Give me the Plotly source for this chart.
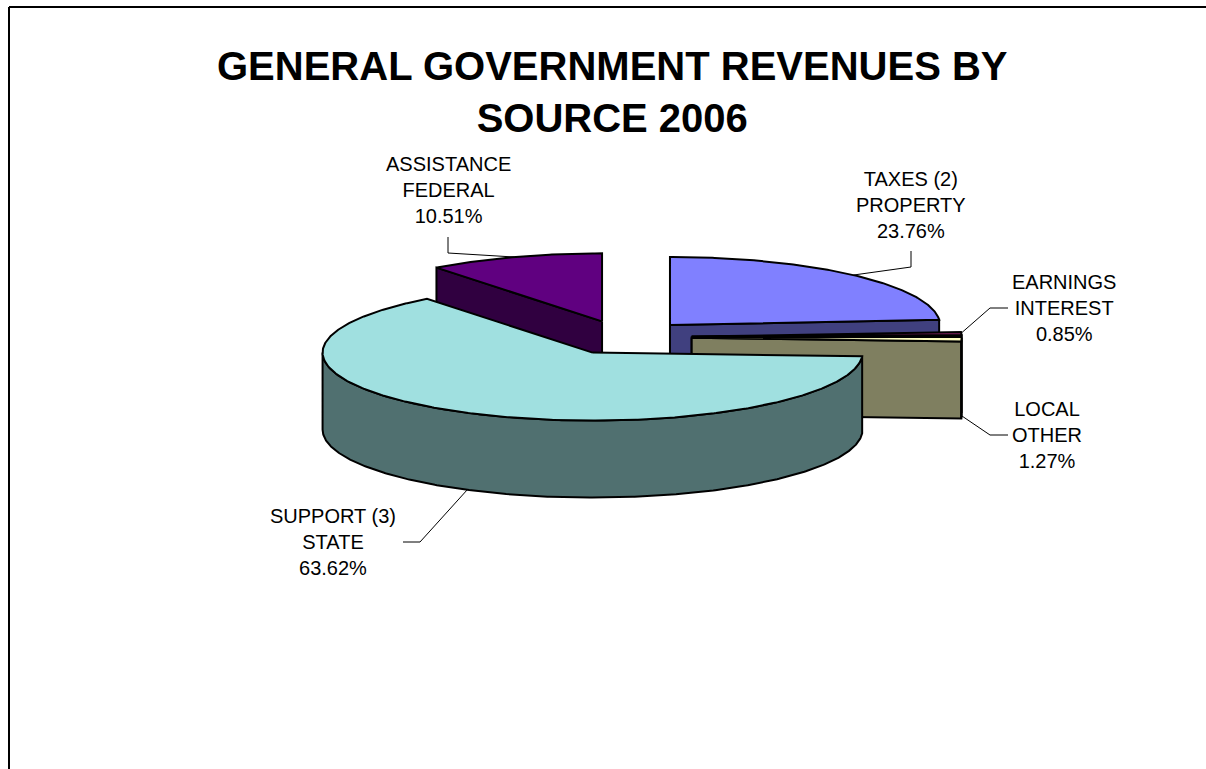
import numpy as np
import plotly.graph_objects as go

# ---- data -------------------------------------------------------------
categories = ["PROPERTY TAXES (2)", "INTEREST EARNINGS", "OTHER LOCAL",
              "STATE SUPPORT (3)", "FEDERAL ASSISTANCE"]
label_lines = [["TAXES (2)", "PROPERTY"], ["EARNINGS", "INTEREST"],
               ["LOCAL", "OTHER"], ["SUPPORT (3)", "STATE"],
               ["ASSISTANCE", "FEDERAL"]]
shares = [23.76, 0.85, 1.27, 63.62, 10.51]

# ---- styling ----------------------------------------------------------
top_colors = ["#8080FF", "#802060", "#FFFFC0", "#A0E0E0", "#600080"]
FONT = "Liberation Sans, Arial, sans-serif"

W, H = 1206, 769
CX, CY = 624.0, 337.5      # pie centre (pixel space)
RX, RY = 270.0, 68.0       # ellipse radii of the tilted disc
DEPTH = 77.0               # wall thickness
EXPLODE = 67.7             # radial pull of every slice (x units)

# label placement: (centre x, middle-line y) and leader elbow / end points
label_pos = [(911, 205), (1064, 308), (1047, 435), (333, 542), (448, 190)]
leader_tail = [[(911, 267), (911, 251)], [(990, 308), (1008, 308)],
               [(990, 435), (1008, 435)], [(420, 542), (403, 542)],
               [(448, 253), (448, 237)]]


def shade(hex_color, f=0.5):
    h = hex_color.lstrip("#")
    r, g, b = (int(h[i:i + 2], 16) for i in (0, 2, 4))
    return "#%02X%02X%02X" % (int(r * f), int(g * f), int(b * f))


def pt(cx, cy, deg, r=1.0):
    t = np.radians(deg)
    return cx + r * RX * np.sin(t), cy - r * RY * np.cos(t)


total = sum(shares)
bounds = np.concatenate([[0], np.cumsum(shares) / total * 360.0])

slices = []
for i, v in enumerate(shares):
    a, b = bounds[i], bounds[i + 1]
    mid = (a + b) / 2
    t = np.radians(mid)
    cx = CX + EXPLODE * np.sin(t)
    cy = CY - EXPLODE * (RY / RX) * np.cos(t)
    slices.append(dict(a=a, b=b, mid=mid, cx=cx, cy=cy))

side_faces = []   # (depth key, xs, ys, colour)
top_faces = []

for i, s in enumerate(slices):
    a, b, cx, cy = s["a"], s["b"], s["cx"], s["cy"]
    side = shade(top_colors[i])
    # top face
    angs = np.linspace(a, b, max(3, int((b - a) * 2)))
    xs = [cx] + [pt(cx, cy, d)[0] for d in angs] + [cx]
    ys = [cy] + [pt(cx, cy, d)[1] for d in angs] + [cy]
    top_faces.append((xs, ys, top_colors[i]))
    # outer wall, front half only
    lo, hi = max(a, 90.0), min(b, 270.0)
    if hi > lo:
        wa = np.linspace(lo, hi, max(3, int((hi - lo) * 2)))
        tx = [pt(cx, cy, d)[0] for d in wa]
        ty = [pt(cx, cy, d)[1] for d in wa]
        xs = tx + tx[::-1] + [tx[0]]
        ys = ty + [y + DEPTH for y in ty[::-1]] + [ty[0]]
        key = max(ty) + DEPTH
        side_faces.append((key, xs, ys, side))
    # radial cut faces, when facing the viewer
    for edge, normal in ((a, a - 90.0), (b, b + 90.0)):
        if np.cos(np.radians(normal - 180.0)) > 1e-6:
            ex, ey = pt(cx, cy, edge)
            xs = [cx, ex, ex, cx, cx]
            ys = [cy, ey, ey + DEPTH, cy + DEPTH, cy]
            key = pt(cx, cy, edge, 0.5)[1] + DEPTH / 2
            side_faces.append((key, xs, ys, side))

fig = go.Figure()

for key, xs, ys, col in sorted(side_faces, key=lambda f: f[0]):
    fig.add_trace(go.Scatter(x=xs, y=ys, mode="lines", fill="toself",
                             fillcolor=col, line=dict(color="black", width=2),
                             hoverinfo="skip", showlegend=False))
for xs, ys, col in top_faces:
    fig.add_trace(go.Scatter(x=xs, y=ys, mode="lines", fill="toself",
                             fillcolor=col, line=dict(color="black", width=2),
                             hoverinfo="skip", showlegend=False))

# leader lines and data labels
for i, s in enumerate(slices):
    mid = s["mid"]
    ax, ay = pt(s["cx"], s["cy"], mid)
    if 90.0 < mid < 270.0:
        ay += DEPTH
    path = [(ax, ay)] + leader_tail[i]
    fig.add_trace(go.Scatter(x=[p[0] for p in path], y=[p[1] for p in path],
                             mode="lines", line=dict(color="black", width=1),
                             hoverinfo="skip", showlegend=False))
    lx, ly = label_pos[i]
    text = "<br>".join(label_lines[i] + [f"{shares[i]:.2f}%"])
    fig.add_annotation(x=lx, y=ly, xref="x", yref="y", text=text,
                       showarrow=False, align="center",
                       xanchor="center", yanchor="middle",
                       font=dict(family=FONT, size=20, color="black"))

fig.add_annotation(x=612, y=91.5, xref="x", yref="y",
                   text="<b>GENERAL GOVERNMENT REVENUES BY<br>SOURCE 2006</b>",
                   showarrow=False, align="center",
                   xanchor="center", yanchor="middle",
                   font=dict(family=FONT, size=40, color="black"))

# chart-area frame (left and top edges), in paper coordinates
fx0 = 9 / W
fy_top = 1 - 7 / H
fig.add_shape(type="line", x0=fx0, y0=fy_top, x1=1.02, y1=fy_top,
              xref="paper", yref="paper", line=dict(color="black", width=2))
fig.add_shape(type="line", x0=fx0, y0=fy_top, x1=fx0, y1=-0.02,
              xref="paper", yref="paper", line=dict(color="black", width=2))

fig.update_layout(
    width=W, height=H, autosize=False,
    margin=dict(l=0, r=0, t=0, b=0),
    paper_bgcolor="white", plot_bgcolor="white",
    xaxis=dict(range=[0, W], visible=False, fixedrange=True),
    yaxis=dict(range=[H, 0], visible=False, fixedrange=True),
    showlegend=False,
)

fig.write_html("out.html", config={"displayModeBar": False, "staticPlot": True})
